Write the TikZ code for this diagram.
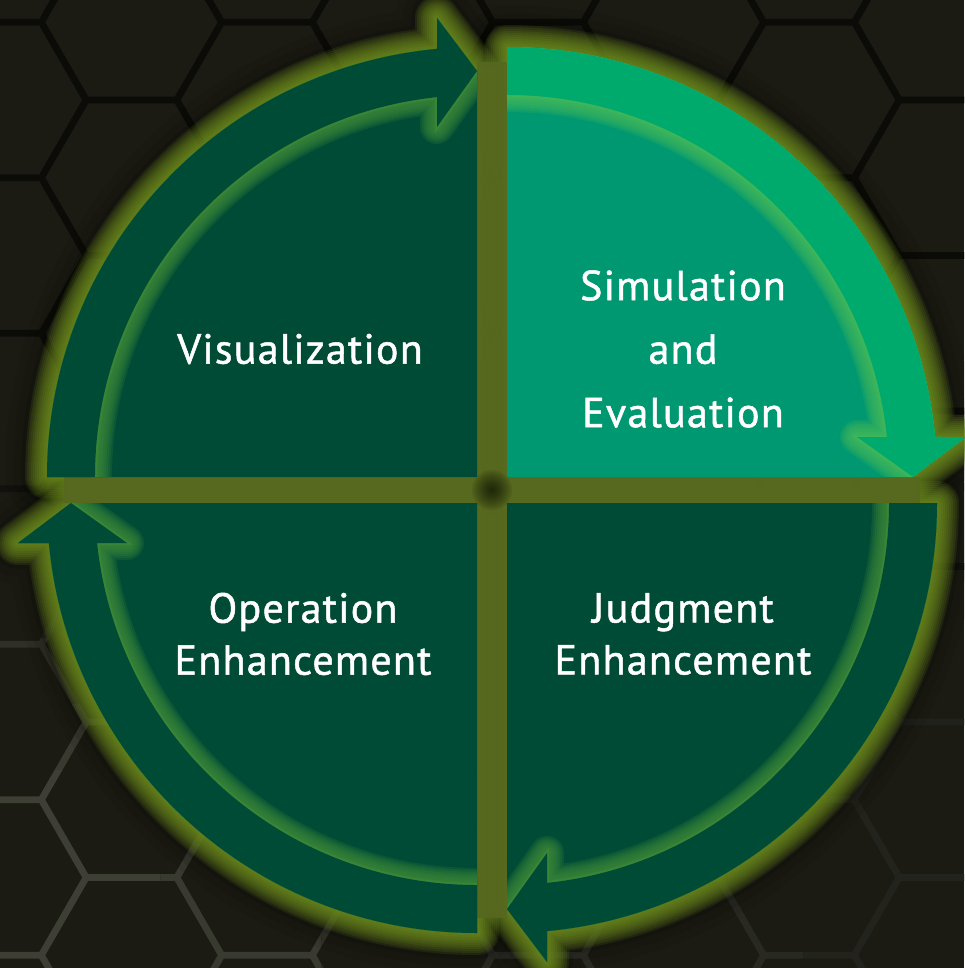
\documentclass[tikz,border=0pt]{standalone}
\usepackage{fontspec}
\setmainfont[LetterSpace=3,FakeBold=1.2]{PT Sans}
\definecolor{bg}{HTML}{1B1B14}
\definecolor{hexdark}{HTML}{0B0B08}
\definecolor{hexlight}{HTML}{404136}
\definecolor{olive}{HTML}{7A9C22}
\definecolor{gapolive}{HTML}{56681F}
\definecolor{deepgreen}{HTML}{004B35}
\definecolor{ringlight}{HTML}{00AA6C}
\definecolor{disklight}{HTML}{009870}
\definecolor{edgedark}{HTML}{3F8C3A}
\definecolor{edgelight}{HTML}{46B95A}

% honeycomb of flat-topped hexagons, side 90
\newcommand\hexgrid[1]{%
  \draw[#1] \foreach \k in {0,...,8}{\foreach \j in {-6,...,2}{
    ({-4+135.5*\k},{722+155.5*\j+77.75*mod(\k,2)}) +(0:90) -- +(60:90) -- +(120:90)
      -- +(180:90) -- +(240:90) -- +(300:90) -- cycle}};}

% one quadrant in local coordinates (centre of the quarter at the origin)
\newcommand\quadoutline{(0,0) -- (-430,0) arc[start angle=180,end angle=264.66,radius=430]
  -- (-40,-459) -- (0,-406) -- cycle}
\newcommand\arrowshape{(-430,0) arc[start angle=180,end angle=264.66,radius=430]
  -- (-40,-459) -- (0,-406) -- (-40,-350) -- (-40,-379.9)
  arc[start angle=263.99,end angle=180,radius=382] -- cycle}

\tikzset{
  lbl/.style={text=white, align=center, inner sep=0pt,
    font=\fontsize{42}{52}\selectfont},
}

\begin{document}
\begin{tikzpicture}[x=1pt,y=-1pt]
\fill[bg] (0,0) rectangle (964,968);
\useasboundingbox (0,0) rectangle (964,968);

% background honeycomb, dark at the top and lighter towards the lower left
\begin{scope}
  \clip (0,0) rectangle (964,440);
  \hexgrid{hexdark,line width=6.5}
\end{scope}
\foreach \r in {0,...,7}{
  \foreach \c in {0,...,5}{
    \pgfmathsetmacro\yy{440+66*\r}
    \pgfmathsetmacro\xx{160.67*\c}
    \pgfmathsetmacro\vv{(\yy+33)/968}
    \pgfmathsetmacro\uu{(\xx+80)/964}
    \pgfmathsetmacro\tp{100*min(1,max(0,(\vv-0.45)/0.35))*(1-0.6*\uu)}
    \begin{scope}
      \clip (\xx,\yy) rectangle ({\xx+160.67},{\yy+66});
      \hexgrid{hexlight!\tp!hexdark,line width=6.5}
    \end{scope}
  }
}

% dark halo around the four quadrants
\foreach \cx/\cy/\rot in {477/477/0, 507/477/-90, 507/503/-180, 477/503/90}{
  \begin{scope}[shift={(\cx,\cy)}, rotate=\rot]
    \foreach \w/\o in {84/0.06, 68/0.08, 52/0.1, 36/0.12, 20/0.15}
      \draw[black, line width=\w, opacity=\o, line join=round] \quadoutline;
  \end{scope}
}

% yellow-green glow around each quadrant
\foreach \cx/\cy/\rot in {477/477/0, 507/477/-90, 507/503/-180, 477/503/90}{
  \begin{scope}[shift={(\cx,\cy)}, rotate=\rot]
    \foreach \w in {44,40,...,4}
      \draw[olive, line width=\w, opacity=0.13, line join=round] \quadoutline;
  \end{scope}
}

% olive band between the quadrants
\begin{scope}
  \clip (492,490) circle[radius=428];
  \fill[gapolive, opacity=0.9] (477,0) rectangle (507,968);
  \fill[gapolive, opacity=0.9] (0,477) rectangle (477,503);
  \fill[gapolive, opacity=0.9] (507,477) rectangle (964,503);
\end{scope}

% dark knot where the bands cross
\foreach \r in {20,18,...,2}
  \fill[black, opacity=0.08] (492,490) circle[radius=\r];

% quadrants: inner disk, inner glow, curved arrow
\foreach \cx/\cy/\rot/\ring/\disk/\edge in {
    477/477/0/deepgreen/deepgreen/edgedark,
    507/477/-90/ringlight/disklight/edgelight,
    507/503/-180/deepgreen/deepgreen/edgedark,
    477/503/90/deepgreen/deepgreen/edgedark}{
  \begin{scope}[shift={(\cx,\cy)}, rotate=\rot]
    \fill[\disk] \quadoutline;
    \begin{scope}
      \clip \quadoutline;
      \foreach \w in {34,30,...,6}
        \draw[\edge, line width=\w, opacity=0.2, line join=round] \arrowshape;
      \draw[\edge, line width=4, opacity=0.5] \arrowshape;
    \end{scope}
    \fill[\ring] \arrowshape;
  \end{scope}
}

% labels
\node[lbl] (vis) at (300,349) {Visualization};
\node[lbl, font=\fontsize{42}{63.5}\selectfont] (sim) at (683,349) {Simulation\\and\\Evaluation};
\node[lbl] (op) at (303,634) {Operation\\Enhancement};
\node[lbl] (judg) at (683,634) {Judgment\\Enhancement};
\end{tikzpicture}
\end{document}
